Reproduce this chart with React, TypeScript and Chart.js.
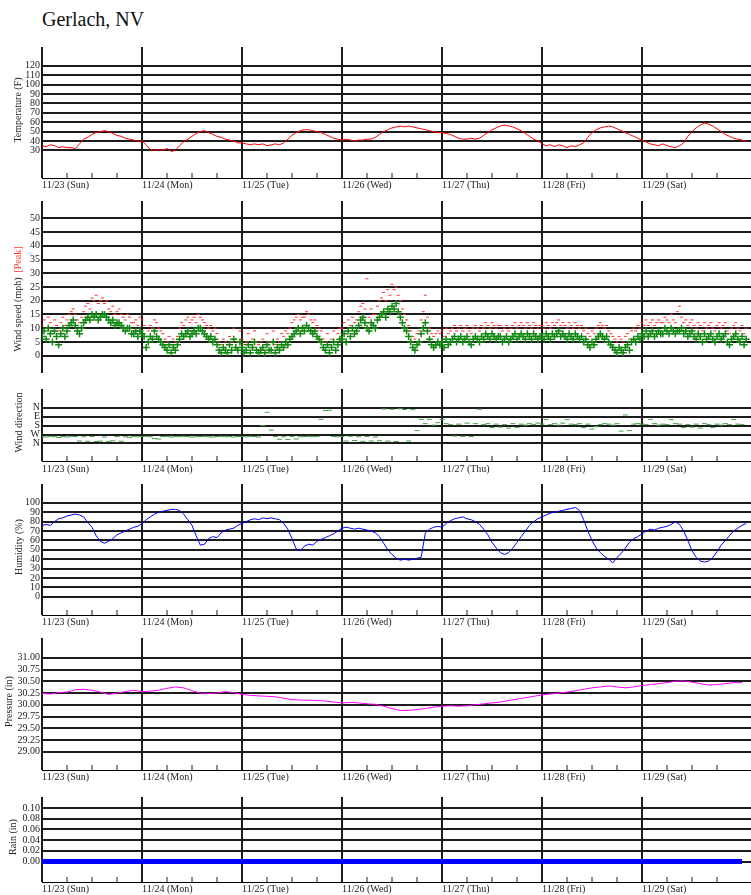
import React, { useEffect, useRef } from 'react';
import { Chart, registerables } from 'chart.js';

Chart.register(...registerables);

// ---------------- data ----------------
const STATION = 'Gerlach, NV';
const DAY_LABELS = ['11/23 (Sun)', '11/24 (Mon)', '11/25 (Tue)', '11/26 (Wed)', '11/27 (Thu)', '11/28 (Fri)', '11/29 (Sat)'];
const DAY_TICKS = [0, 24, 48, 72, 96, 120, 144];
const HOUR_TICKS = [0, 6, 12, 18, 24, 30, 36, 42, 48, 54, 60, 66, 72, 78, 84, 90, 96, 102, 108, 114, 120, 126, 132, 138, 144, 150, 156, 162];

// hourly temperature (F), from 11/23 00:00
const TEMP_F = [
  35, 34, 36, 35, 33, 34, 33, 33, 32, 37, 42, 44, 47, 49, 50, 51, 50, 48, 46, 45, 43, 42, 41, 40,
  40, 36, 31, 30, 31, 30, 32, 29, 30, 35, 39, 42, 45, 48, 50, 51, 49, 47, 45, 44, 42, 41, 40, 38,
  38, 37, 36, 37, 36, 37, 35, 36, 37, 36, 38, 42, 46, 49, 51, 52, 52, 51, 50, 49, 47, 45, 43, 42,
  41, 42, 41, 40, 41, 41, 42, 42, 44, 47, 50, 52, 54, 55, 56, 55, 56, 55, 54, 53, 52, 51, 50, 49,
  49, 48, 47, 45, 43, 42, 42, 43, 42, 43, 46, 49, 52, 54, 56, 57, 56, 55, 53, 51, 48, 45, 42, 40,
  37, 35, 36, 34, 36, 35, 33, 35, 34, 36, 38, 44, 49, 52, 54, 55, 56, 55, 53, 51, 49, 47, 45, 43,
  41, 39, 37, 36, 35, 37, 35, 34, 33, 35, 38, 45, 50, 54, 57, 59, 58, 56, 53, 50, 47, 45, 43, 42, 41, 40,
];

// half-hourly wind speed (mph)
const WIND_MPH = [
  7, 9, 6, 10, 8, 5, 9, 7, 4, 8, 10, 7, 9, 11, 12, 13, 11, 9, 8, 10, 12, 13, 14, 13, 15, 14, 15, 13, 14, 15, 15, 14, 13, 12, 13, 11, 12, 12, 11, 10, 9, 10, 10, 8, 8, 9, 7, 9,
  8, 7, 3, 5, 7, 6, 9, 7, 6, 5, 4, 3, 2, 4, 1, 3, 2, 4, 6, 8, 7, 8, 9, 7, 8, 9, 8, 10, 10, 9, 8, 7, 6, 7, 5, 6, 4, 2, 1, 3, 2, 1, 4, 2, 6, 3, 2, 5,
  3, 1, 2, 4, 1, 3, 5, 2, 1, 2, 3, 1, 4, 2, 2, 5, 1, 3, 2, 4, 3, 5, 4, 6, 7, 8, 9, 10, 8, 10, 9, 11, 10, 9, 8, 9, 7, 6, 5, 3, 2, 4, 1, 3, 5, 2, 4, 6,
  6, 8, 5, 9, 7, 10, 8, 9, 11, 13, 14, 12, 10, 9, 12, 11, 10, 13, 14, 15, 16, 14, 17, 16, 18, 17, 19, 16, 14, 12, 10, 9, 7, 5, 3, 2, 4, 5, 8, 10, 12, 9, 6, 4, 3, 4, 5, 4,
  5, 3, 6, 4, 5, 6, 7, 5, 6, 7, 5, 6, 7, 5, 4, 6, 7, 6, 5, 7, 6, 8, 7, 6, 8, 7, 6, 7, 7, 5, 6, 7, 5, 6, 7, 8, 6, 7, 8, 7, 6, 8, 7, 6, 8, 7, 6, 7,
  7, 6, 8, 7, 6, 8, 7, 8, 9, 7, 8, 7, 6, 8, 7, 6, 8, 7, 6, 7, 5, 6, 4, 3, 5, 4, 6, 7, 8, 7, 6, 7, 5, 4, 3, 2, 1, 3, 2, 1, 3, 4, 2, 5, 6, 5, 7, 6,
  8, 7, 9, 7, 8, 9, 7, 8, 9, 8, 8, 10, 9, 8, 10, 9, 8, 9, 9, 10, 8, 9, 7, 8, 9, 7, 6, 8, 7, 5, 8, 6, 7, 8, 6, 5, 7, 8, 6, 7, 8, 5, 4, 6, 7, 8, 6, 5, 7, 4, 6,
];

// half-hourly peak gust (mph)
const PEAK_MPH = [
  11, 13, 10, 14, 12, 9, 13, 11, 9, 12, 14, 11, 13, 15, 16, 17, 15, 13, 12, 14, 16, 18, 19, 17, 21, 20, 22, 19, 20, 21, 19, 20, 17, 16, 18, 15, 16, 17, 15, 14, 13, 15, 14, 12, 12, 13, 11, 14,
  13, 11, 7, 9, 11, 10, 13, 12, 10, 9, 8, 6, 5, 7, 4, 6, 5, 7, 10, 12, 11, 13, 14, 12, 13, 14, 12, 15, 14, 13, 12, 11, 10, 11, 9, 10, 8, 5, 4, 6, 5, 4, 7, 5, 10, 6, 5, 9,
  6, 4, 5, 8, 4, 6, 9, 5, 4, 5, 6, 4, 8, 5, 5, 9, 4, 6, 5, 8, 7, 9, 8, 10, 12, 13, 14, 15, 13, 14, 14, 16, 15, 13, 12, 13, 11, 10, 9, 6, 5, 8, 4, 6, 9, 5, 8, 10,
  10, 12, 9, 13, 11, 14, 12, 13, 16, 18, 19, 17, 28, 14, 17, 15, 15, 18, 20, 21, 23, 20, 24, 22, 26, 24, 25, 22, 20, 17, 15, 13, 11, 9, 7, 6, 8, 9, 13, 16, 22, 14, 10, 8, 7, 8, 9, 8,
  9, 7, 10, 8, 9, 10, 11, 9, 10, 11, 9, 10, 11, 9, 8, 10, 11, 10, 9, 11, 10, 12, 11, 10, 12, 11, 10, 11, 11, 9, 10, 11, 9, 10, 11, 12, 10, 11, 12, 11, 10, 12, 11, 10, 12, 11, 10, 11,
  11, 10, 12, 11, 10, 12, 11, 12, 13, 11, 12, 11, 10, 12, 11, 10, 12, 11, 10, 11, 9, 10, 8, 7, 9, 8, 10, 11, 12, 11, 10, 11, 9, 8, 7, 6, 5, 7, 6, 5, 7, 8, 6, 9, 10, 9, 11, 10,
  12, 11, 13, 11, 12, 13, 11, 12, 13, 12, 12, 14, 13, 12, 15, 13, 12, 16, 18, 14, 12, 13, 11, 12, 13, 11, 10, 12, 11, 9, 12, 10, 11, 12, 10, 9, 11, 12, 10, 11, 12, 9, 8, 10, 11, 12, 10, 9, 11, 8, 10,
];

// hourly wind direction (degrees, 0 = N)
const WIND_DIR_DEG = [
  290, 295, 288, 292, 300, 290, 295, 288, 290, 335, 292, 338, 290, 340, 336, 295, 338, 333, 290, 337, 292, 300, 288, 292,
  290, 288, 292, 310, 315, 290, 288, 295, 290, 292, 288, 290, 295, 292, 290, 288, 292, 295, 290, 288, 292, 290, 295, 290,
  290, 292, 288, 290, 295, 180, 45, 225, 290, 318, 292, 320, 290, 315, 292, 290, 288, 292, 290, 117, 27, 25, 290, 292,
  290, 335, 288, 330, 292, 338, 290, 335, 295, 332, 12, 336, 15, 340, 10, 18, 335, 20, 230, 117, 160, 117, 175, 150,
  117, 160, 170, 285, 165, 288, 155, 290, 160, 15, 170, 160, 200, 165, 195, 170, 205, 160, 198, 165, 175, 160, 170, 155,
  165, 117, 170, 160, 175, 155, 120, 165, 170, 160, 200, 165, 215, 190, 170, 160, 165, 175, 160, 235, 72, 230, 165, 160,
  165, 170, 117, 160, 175, 165, 170, 120, 160, 165, 200, 170, 195, 165, 205, 160, 170, 198, 165, 175, 160, 170, 117, 165, 170,
];

// hourly relative humidity (%)
const HUMIDITY_PCT = [
  76, 77, 76, 80, 83, 84, 86, 87, 88, 87, 85, 79, 74, 65, 59, 57, 59, 62, 66, 68, 70, 72, 74, 75,
  78, 82, 85, 88, 90, 91, 92, 93, 93, 92, 88, 82, 76, 65, 55, 56, 62, 64, 63, 68, 71, 72, 73, 76,
  78, 80, 82, 83, 82, 84, 83, 84, 83, 82, 78, 72, 62, 51, 49, 54, 56, 55, 59, 61, 63, 65, 67, 70,
  73, 74, 73, 72, 73, 72, 71, 70, 68, 64, 57, 50, 45, 41, 39, 40, 39, 40, 41, 42, 68, 72, 74, 75,
  74, 78, 81, 83, 84, 85, 83, 82, 80, 77, 72, 66, 58, 52, 47, 45, 47, 52, 58, 64, 70, 76, 80, 83,
  85, 87, 89, 90, 91, 92, 93, 94, 95, 92, 82, 70, 60, 52, 47, 43, 40, 36, 42, 46, 52, 58, 62, 64,
  67, 70, 72, 71, 73, 74, 75, 77, 80, 77, 70, 60, 49, 42, 38, 37, 38, 42, 48, 55, 60, 65, 70, 73, 76, 78,
];

// 2-hourly barometric pressure (in)
const PRESSURE_IN = [
  30.24, 30.23, 30.26, 30.27, 30.32, 30.33, 30.31, 30.27, 30.22, 30.25, 30.28, 30.31,
  30.28, 30.29, 30.31, 30.35, 30.38, 30.36, 30.30, 30.25, 30.24, 30.25, 30.28, 30.26,
  30.22, 30.20, 30.19, 30.18, 30.17, 30.14, 30.11, 30.10, 30.10, 30.09, 30.08, 30.06,
  30.04, 30.05, 30.04, 30.02, 30.01, 29.97, 29.92, 29.88, 29.88, 29.90, 29.92, 29.95,
  29.97, 29.98, 29.97, 29.98, 30.00, 30.02, 30.04, 30.06, 30.09, 30.12, 30.15, 30.18,
  30.21, 30.23, 30.25, 30.27, 30.30, 30.33, 30.36, 30.38, 30.40, 30.38, 30.36, 30.38,
  30.41, 30.43, 30.45, 30.47, 30.50, 30.51, 30.48, 30.45, 30.42, 30.43, 30.45, 30.47, 30.47,
];

// 6-hourly rain (in)
const RAIN_IN = [
  0, 0, 0, 0, 0, 0, 0, 0, 0, 0, 0, 0, 0, 0, 0, 0, 0, 0, 0, 0, 0, 0, 0, 0, 0, 0, 0, 0, 0,
];

const TEMP_TICKS = [30, 40, 50, 60, 70, 80, 90, 100, 110, 120];
const WIND_TICKS = [0, 5, 10, 15, 20, 25, 30, 35, 40, 45, 50];
const DIR_TICKS = [0, 90, 180, 270, 360];
const DIR_LABELS = ['N', 'E', 'S', 'W', 'N'];
const HUM_TICKS = [0, 10, 20, 30, 40, 50, 60, 70, 80, 90, 100];
const PRES_TICKS = [29.0, 29.25, 29.5, 29.75, 30.0, 30.25, 30.5, 30.75, 31.0];
const RAIN_TICKS = [0, 0.02, 0.04, 0.06, 0.08, 0.1];

// ---------------- styling helpers ----------------
const FAMILY = '"Liberation Serif", "Times New Roman", serif';
const INK = '#222222';
const GRID_INK = '#1c1c1c';
const CLEAR = 'rgba(0,0,0,0)';
const X_MAX_H = 170.16;
const NB = '\u00a0';

const isDay = (c: any) => !!c.tick && Math.abs(c.tick.value / 24 - Math.round(c.tick.value / 24)) < 1e-6;

function xAxes(withLabels: boolean, labelPad: number) {
  const s: any = {
    x: {
      type: 'linear',
      position: 'bottom',
      weight: 0,
      min: 0,
      max: X_MAX_H,
      afterBuildTicks: (sc: any) => {
        sc.ticks = (withLabels ? HOUR_TICKS : DAY_TICKS).map((v) => ({ value: v }));
      },
      ticks: { display: false },
      grid: {
        display: true,
        drawOnChartArea: true,
        drawTicks: withLabels,
        tickLength: 5,
        color: (c: any) => (isDay(c) ? GRID_INK : CLEAR),
        lineWidth: 2,
        tickColor: GRID_INK,
        tickWidth: (c: any) => (isDay(c) ? 2 : 1),
      },
      border: { display: false },
    },
  };
  if (withLabels) {
    s.x2 = {
      type: 'linear',
      position: 'bottom',
      weight: 1,
      min: 0,
      max: X_MAX_H,
      afterBuildTicks: (sc: any) => {
        sc.ticks = DAY_TICKS.map((v) => ({ value: v }));
      },
      afterFit: (sc: any) => {
        sc.height = 16;
      },
      ticks: {
        display: true,
        autoSkip: false,
        maxRotation: 0,
        minRotation: 0,
        align: 'start',
        padding: labelPad,
        color: INK,
        font: { family: FAMILY, size: 10 },
        callback: (v: any) => DAY_LABELS[DAY_TICKS.indexOf(Number(v))],
      },
      grid: { display: true, drawOnChartArea: false, drawTicks: false },
      border: { display: true, color: '#000000', width: 1, dash: [1, 100 / 24 - 1] },
    };
  }
  return s;
}

function yAxis(o: {
  min: number;
  max: number;
  ticks: number[];
  fmt: (v: number) => string;
  title: string;
  pad: number;
  reverse?: boolean;
  titleColor?: string;
}) {
  return {
    type: 'linear',
    position: 'left',
    weight: 0,
    min: o.min,
    max: o.max,
    reverse: !!o.reverse,
    afterBuildTicks: (sc: any) => {
      sc.ticks = o.ticks.map((v) => ({ value: v }));
    },
    afterFit: (sc: any) => {
      sc.width = 42;
    },
    ticks: {
      autoSkip: false,
      padding: 2,
      color: INK,
      font: { family: FAMILY, size: 10 },
      callback: (v: any) => o.fmt(Number(v)),
    },
    grid: { color: GRID_INK, lineWidth: 2, drawTicks: false },
    border: { display: false },
    title: {
      display: true,
      text: o.title,
      color: o.titleColor || INK,
      font: { family: FAMILY, size: 10 },
      padding: { top: o.pad, bottom: 0 },
    },
  };
}

function baseOptions(scales: any) {
  return {
    animation: false,
    responsive: false,
    maintainAspectRatio: false,
    events: [],
    layout: { padding: 0, autoPadding: false },
    plugins: { legend: { display: false }, tooltip: { enabled: false }, title: { display: false } },
    scales,
  };
}

const lineSet = (values: number[], stepH: number, color: string, width: number) => ({
  data: values.map((v, i) => ({ x: i * stepH, y: v })),
  borderColor: color,
  backgroundColor: color,
  borderWidth: width,
  pointRadius: 0,
  tension: 0,
  xAxisID: 'x',
  yAxisID: 'y',
});

const fmtInt = (v: number) => String(Math.round(v));
const fmt2 = (v: number) => v.toFixed(2);

function spaces(n: number) {
  let s = '';
  for (let i = 0; i < n; i++) s += NB;
  return s;
}

// ---------------- panels ----------------
const PANELS: { key: string; top: number; height: number; make: () => any }[] = [
  {
    key: 'temp',
    top: 39,
    height: 155,
    make: () => ({
      type: 'line',
      data: { datasets: [lineSet(TEMP_F, 1, '#ff0000', 1)] },
      options: baseOptions({
        ...xAxes(true, 1),
        y: yAxis({ min: 6, max: 140, ticks: TEMP_TICKS, fmt: fmtInt, title: 'Temperature (F)', pad: 12 }),
      }),
    }),
  },
  {
    key: 'wind',
    top: 193,
    height: 188,
    make: () => ({
      type: 'scatter',
      data: {
        datasets: [
          {
            data: WIND_MPH.map((v, i) => ({ x: i / 2, y: v })),
            pointStyle: 'cross',
            pointRadius: 3.5,
            borderWidth: 1.5,
            borderColor: '#118811',
            backgroundColor: '#118811',
            xAxisID: 'x',
            yAxisID: 'y',
          },
          {
            data: PEAK_MPH.map((v, i) => ({ x: i / 2, y: v })),
            pointStyle: 'line',
            pointRadius: 1.5,
            borderWidth: 1,
            borderColor: '#ff3030',
            backgroundColor: '#ff3030',
            xAxisID: 'x',
            yAxisID: 'y',
          },
        ],
      },
      options: baseOptions({
        ...xAxes(false, 1),
        y: yAxis({
          min: -19 / 3,
          max: 169 / 3,
          ticks: WIND_TICKS,
          fmt: fmtInt,
          title: 'Wind speed (mph)' + spaces(22),
          pad: 12,
        }),
        yPeak: {
          type: 'linear',
          position: 'left',
          weight: 1,
          display: true,
          min: 0,
          max: 1,
          afterFit: (sc: any) => {
            sc.width = 0;
          },
          ticks: { display: false },
          grid: { display: false, drawTicks: false },
          border: { display: false },
          title: {
            display: true,
            text: spaces(22) + '[Peak]',
            color: '#ff3333',
            font: { family: FAMILY, size: 10 },
            padding: { top: 12, bottom: 0 },
          },
        },
      }),
    }),
  },
  {
    key: 'dir',
    top: 381,
    height: 96,
    make: () => ({
      type: 'scatter',
      data: {
        datasets: [
          {
            data: WIND_DIR_DEG.map((v, i) => ({ x: i, y: v })),
            pointStyle: 'line',
            pointRadius: 2.5,
            borderWidth: 1,
            borderColor: '#4a9f4a',
            backgroundColor: '#4a9f4a',
            xAxisID: 'x',
            yAxisID: 'y',
          },
        ],
      },
      options: baseOptions({
        ...xAxes(true, 2),
        y: yAxis({
          min: -189,
          max: 486,
          reverse: true,
          ticks: DIR_TICKS,
          fmt: (v: number) => DIR_LABELS[DIR_TICKS.indexOf(v)],
          title: 'Wind direction',
          pad: 13,
        }),
      }),
    }),
  },
  {
    key: 'hum',
    top: 476,
    height: 155,
    make: () => ({
      type: 'line',
      data: { datasets: [lineSet(HUMIDITY_PCT, 1, '#0000ff', 1)] },
      options: baseOptions({
        ...xAxes(true, 1),
        y: yAxis({ min: -14, max: 120, ticks: HUM_TICKS, fmt: fmtInt, title: 'Humidity (%)', pad: 13 }),
      }),
    }),
  },
  {
    key: 'pres',
    top: 630,
    height: 156,
    make: () => ({
      type: 'line',
      data: { datasets: [lineSet(PRESSURE_IN, 2, '#ff00ff', 1)] },
      options: baseOptions({
        ...xAxes(true, 1),
        y: yAxis({ min: 28.72, max: 31.42, ticks: PRES_TICKS, fmt: fmt2, title: 'Pressure (in)', pad: 3 }),
      }),
    }),
  },
  {
    key: 'rain',
    top: 789,
    height: 109,
    make: () => ({
      type: 'line',
      data: { datasets: [lineSet(RAIN_IN, 6, '#0000ff', 5)] },
      options: baseOptions({
        ...xAxes(true, 1),
        y: yAxis({ min: -17 / 590, max: 0.1 + 12 / 590, ticks: RAIN_TICKS, fmt: fmt2, title: 'Rain (in)', pad: 7 }),
      }),
    }),
  },
];

function Panel({ top, height, make }: { top: number; height: number; make: () => any }) {
  const ref = useRef<HTMLCanvasElement | null>(null);
  useEffect(() => {
    if (!ref.current) return;
    const chart = new Chart(ref.current, make());
    return () => chart.destroy();
  }, []);
  return (
    <canvas
      ref={ref}
      width={751}
      height={height}
      style={{ position: 'absolute', left: 0, top, width: 751, height, display: 'block' }}
    />
  );
}

export default function App() {
  return (
    <div
      style={{
        position: 'absolute',
        left: 0,
        top: 0,
        width: 751,
        height: 895,
        overflow: 'hidden',
        background: '#ffffff',
      }}
    >
      <div
        style={{
          position: 'absolute',
          left: 42,
          top: 9,
          fontFamily: FAMILY,
          fontSize: 20,
          lineHeight: '20px',
          color: '#111111',
          whiteSpace: 'nowrap',
        }}
      >
        {STATION}
      </div>
      {PANELS.map((p) => (
        <Panel key={p.key} top={p.top} height={p.height} make={p.make} />
      ))}
    </div>
  );
}
